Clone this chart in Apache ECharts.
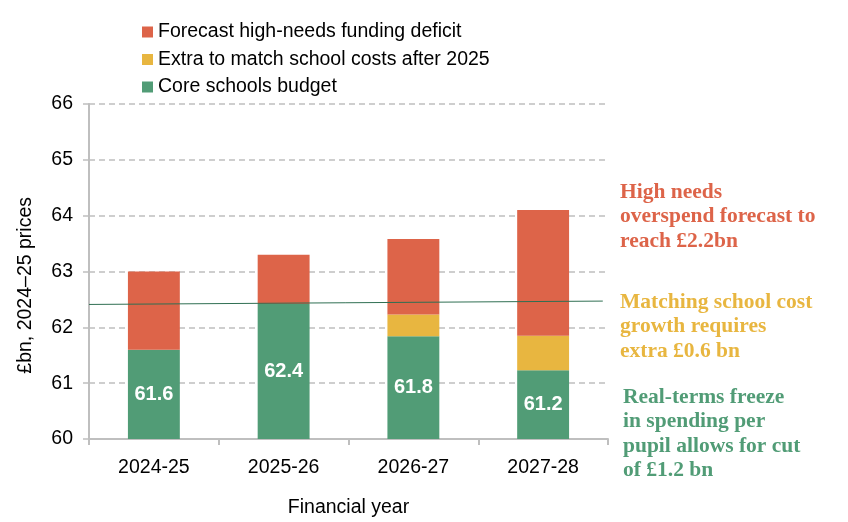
<!doctype html>
<html>
<head>
<meta charset="UTF-8">
<title>Core schools budget</title>
<script src="https://cdn.jsdelivr.net/npm/echarts@6/dist/echarts.min.js"></script>
<style>
  html, body { margin: 0; padding: 0; background: #fff; }
  #chart { width: 848px; height: 522px; }
</style>
</head>
<body>
<div id="chart"></div>
<script>
  var years = ['2024-25', '2025-26', '2026-27', '2027-28'];
  var coreBudget = [61.6, 62.42, 61.84, 61.23];
  var extraCosts = [0, 0, 0.39, 0.62];
  var highNeeds = [1.4, 0.88, 1.35, 2.25];
  // real-terms freeze line, x as share of plot width
  var freezeX = [0, 0.99];
  var freezeY = [62.41, 62.47];
  var yTicks = [60, 61, 62, 63, 64, 65, 66];

  var red = '#dd6449', yellow = '#e8b640', green = '#519c76';
  var font = '"Liberation Sans", Arial, sans-serif';
  var serif = '"Liberation Serif", "Times New Roman", serif';
  var fs = 19.5;

  var chart = echarts.init(document.getElementById('chart'));
  chart.setOption({
    animation: false,
    textStyle: { fontFamily: font },
    legend: {
      orient: 'vertical',
      left: 137,
      top: 17,
      icon: 'rect',
      itemWidth: 11,
      itemHeight: 11,
      itemGap: 7.5,
      itemStyle: { borderWidth: 0 },
      textStyle: { fontSize: fs, color: '#000', fontFamily: font },
      data: ['Forecast high-needs funding deficit', 'Extra to match school costs after 2025', 'Core schools budget']
    },
    grid: { left: 89, right: 240, top: 104, bottom: 83, outerBoundsMode: 'none' },
    xAxis: [{
      type: 'category',
      data: years,
      name: 'Financial year',
      nameLocation: 'middle',
      nameGap: 59,
      nameTextStyle: { fontSize: fs, color: '#000' },
      axisLine: { lineStyle: { color: '#bfbfbf', width: 2 } },
      axisTick: { show: true, length: 6, lineStyle: { color: '#bfbfbf', width: 2 } },
      axisLabel: { fontSize: fs, color: '#000', margin: 19 }
    }, {
      type: 'value',
      min: 0,
      max: 1,
      show: false
    }],
    yAxis: {
      type: 'value',
      min: yTicks[0],
      max: yTicks[yTicks.length - 1],
      interval: 1,
      axisLine: { show: true, lineStyle: { color: '#bfbfbf', width: 2 } },
      axisTick: { show: true, length: 6, lineStyle: { color: '#bfbfbf', width: 1.5 } },
      axisLabel: { fontSize: fs, color: '#000', margin: 16 },
      splitLine: { lineStyle: { color: '#bfbfbf', width: 1.5, type: [6, 4] } }
    },
    graphic: [
      { type: 'text', left: 16, top: 197, rotation: Math.PI / 2,
        style: { text: '£bn, 2024–25 prices', font: fs + 'px ' + font, fill: '#000' } },
      { type: 'text', left: 620, top: 180,
        style: { text: 'High needs\noverspend forecast to\nreach £2.2bn', font: 'bold 21.5px ' + serif, fill: red, lineHeight: 24.5 } },
      { type: 'text', left: 620, top: 290,
        style: { text: 'Matching school cost\ngrowth requires\nextra £0.6 bn', font: 'bold 21.5px ' + serif, fill: yellow, lineHeight: 24.5 } },
      { type: 'text', left: 623, top: 385,
        style: { text: 'Real-terms freeze\nin spending per\npupil allows for cut\nof £1.2 bn', font: 'bold 21.5px ' + serif, fill: green, lineHeight: 24.5 } }
    ],
    series: [{
      name: 'Core schools budget',
      type: 'bar',
      stack: 'total',
      barWidth: '40%',
      data: coreBudget,
      itemStyle: { color: green },
      label: {
        show: true,
        position: 'inside',
        color: '#fff',
        fontWeight: 'bold',
        fontSize: 20,
        fontFamily: font,
        formatter: function(p) { return p.value.toFixed(1); }
      }
    }, {
      name: 'Extra to match school costs after 2025',
      type: 'bar',
      stack: 'total',
      data: extraCosts,
      itemStyle: { color: yellow }
    }, {
      name: 'Forecast high-needs funding deficit',
      type: 'bar',
      stack: 'total',
      data: highNeeds,
      itemStyle: { color: red }
    }, {
      name: 'freeze',
      type: 'line',
      xAxisIndex: 1,
      data: freezeX.map(function(x, i) { return [x, freezeY[i]]; }),
      symbol: 'none',
      lineStyle: { color: '#2f6f52', width: 1 },
      z: 5
    }]
  });
</script>
</body>
</html>
